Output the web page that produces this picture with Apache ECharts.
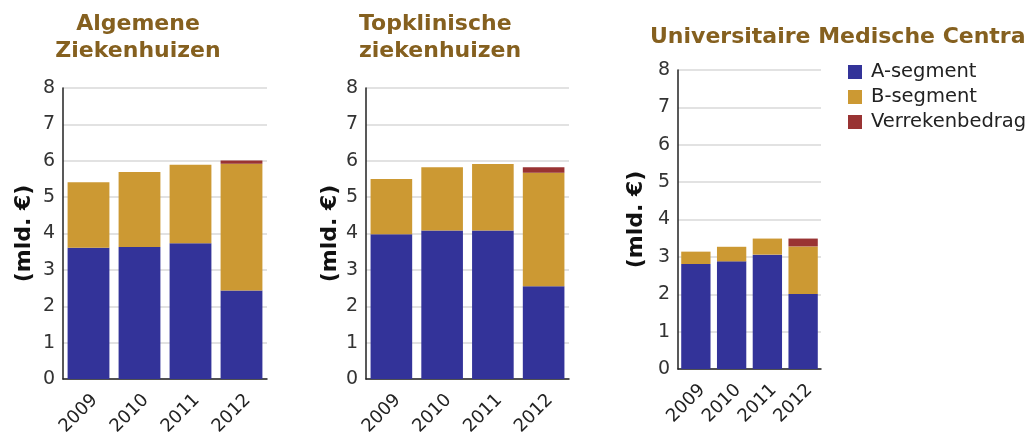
<!DOCTYPE html>
<html><head><meta charset="utf-8">
<script src="https://cdn.jsdelivr.net/npm/echarts@6/dist/echarts.min.js"></script>
<style>html,body{margin:0;padding:0;background:#fff}#c{width:1032px;height:432px}</style>
</head><body><div id="c"></div>
<script>
const years = ['2009','2010','2011','2012'];
const titles = ['Algemene\nZiekenhuizen','Topklinische\nziekenhuizen','Universitaire Medische Centra'];
const seriesNames = ['A-segment','B-segment','Verrekenbedrag'];
const yTicks = [0,1,2,3,4,5,6,7,8];
// Algemene Ziekenhuizen
const azA = [3.61, 3.63, 3.73, 2.43];
const azB = [1.80, 2.06, 2.16, 3.49];
const azV = [0, 0, 0, 0.09];
// Topklinische ziekenhuizen
const tkA = [3.98, 4.08, 4.08, 2.55];
const tkB = [1.52, 1.74, 1.83, 3.12];
const tkV = [0, 0, 0, 0.15];
// Universitaire Medische Centra
const umA = [2.81, 2.88, 3.06, 2.01];
const umB = [0.33, 0.39, 0.43, 1.27];
const umV = [0, 0, 0, 0.21];

const colors = ['#333399','#CC9933','#993333'];
const font = 'DejaVu Sans, Verdana, sans-serif';
const grids = [
  {left:63, right:765, top:88, bottom:53, outerBoundsMode:'none', containLabel:false},
  {left:366, right:463, top:88, bottom:53, outerBoundsMode:'none', containLabel:false},
  {left:678, right:211, top:70, bottom:63, outerBoundsMode:'none', containLabel:false}
];
const nameGaps = [28, 25, 31];
const data = [[azA,azB,azV],[tkA,tkB,tkV],[umA,umB,umV]];

const chart = echarts.init(document.getElementById('c'));
const titleStyle = {fontFamily:font, fontWeight:'bold', fontSize:22, lineHeight:27, color:'#85601f'};
const option = {
  animation:false,
  color: colors,
  title: [
    {text:titles[0], left:138, top:11, textAlign:'center', textStyle:titleStyle, padding:0},
    {text:titles[1], left:359, top:11, textStyle:titleStyle, padding:0},
    {text:titles[2], left:650, top:24, textStyle:titleStyle, padding:0}
  ],
  legend: {
    data: seriesNames, orient:'vertical', left:848, top:62, padding:0,
    itemWidth:14, itemHeight:14, itemGap:5, icon:'rect',
    textStyle:{fontFamily:font, fontSize:19.5, lineHeight:20, color:'#222', padding:[0,0,0,4]}
  },
  grid: grids,
  xAxis: grids.map((g,i)=>({
    type:'category', gridIndex:i, data:years,
    axisLine:{lineStyle:{color:'#222', width:1.5}},
    axisTick:{show:false},
    axisLabel:{rotate:45, fontFamily:font, fontSize:18, color:'#222', margin:12, verticalAlign:'top', interval:0}
  })),
  yAxis: grids.map((g,i)=>({
    type:'value', gridIndex:i, min:yTicks[0], max:yTicks[yTicks.length-1], interval:1,
    name:'(mld. €)', nameLocation:'middle', nameGap:nameGaps[i],
    nameTextStyle:{fontFamily:font, fontWeight:'bold', fontSize:22, color:'#111'},
    axisLine:{show:true, lineStyle:{color:'#222', width:1.5}},
    axisTick:{show:false},
    splitLine:{lineStyle:{color:'#d8d8d8', width:1.5}},
    axisLabel:{fontFamily:font, fontSize:19, color:'#333', margin:8}
  })),
  series: []
};
data.forEach((d,i)=>{
  d.forEach((vals,j)=>{
    option.series.push({
      name: seriesNames[j], type:'bar', stack:'s'+i, xAxisIndex:i, yAxisIndex:i,
      data: vals.map(v=>v===0?null:v), barCategoryGap:'18%',
      itemStyle:{color:colors[j]}
    });
  });
});
chart.setOption(option);
</script></body></html>
